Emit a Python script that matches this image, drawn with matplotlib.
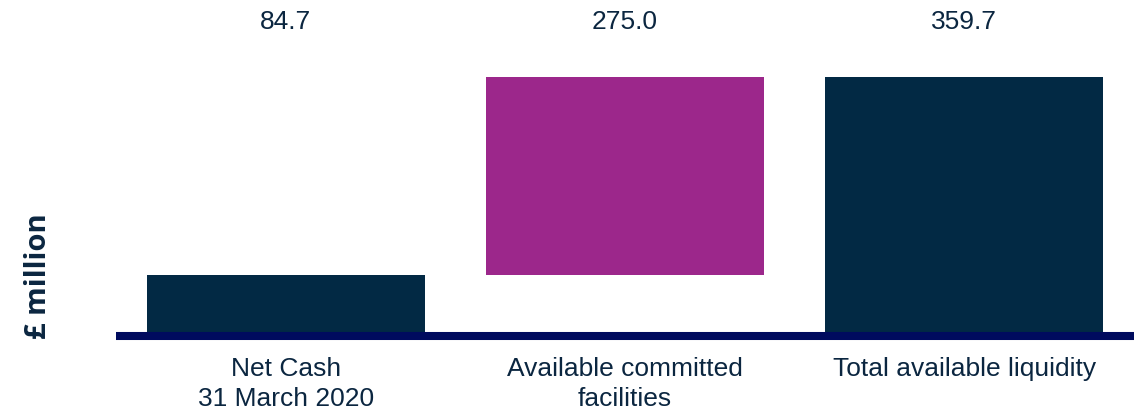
import matplotlib
matplotlib.use("Agg")
import matplotlib.pyplot as plt

# data
categories = ["Net Cash\n31 March 2020", "Available committed\nfacilities", "Total available liquidity"]
values = [84.7, 275.0, 359.7]
bottoms = [0, 84.7, 0]
value_labels = ["84.7", "275.0", "359.7"]

navy = "#022944"
purple = "#9C278B"
axis_col = "#000B5E"
text_col = "#0B2640"

plt.rcParams['font.family'] = ['Liberation Sans', 'DejaVu Sans']

fig = plt.figure(figsize=(11.38, 4.11), dpi=100)
ax = fig.add_axes([116/1138, 75/411, 1018/1138, 336/411])

colors = [navy, purple, navy]
x = range(len(categories))
ax.bar(x, values, bottom=bottoms, width=0.82, color=colors, zorder=2)

for i, lab in enumerate(value_labels):
    ax.text(i, 436, lab, ha='center', va='center', fontsize=19, color=text_col)

ax.set_xlim(-0.5, 2.5)
ax.set_ylim(0, 466.6)
ax.set_xticks(list(x))
ax.set_xticklabels(categories, fontsize=19, color=text_col, linespacing=1.3)
ax.tick_params(axis='x', length=0, pad=15)
ax.set_yticks([])
for s in ['top', 'right', 'left']:
    ax.spines[s].set_visible(False)
ax.spines['bottom'].set_color(axis_col)
ax.spines['bottom'].set_linewidth(5.8)
ax.spines['bottom'].set_capstyle('butt')
ax.spines['bottom'].set_zorder(3)

fig.text(38/1138, 1 - 276/411, "£ million", rotation=90, ha='center', va='center',
         fontsize=21, fontweight='bold', color=text_col, family=['Open Sans', 'DejaVu Sans'])

plt.savefig("out.png", dpi=100)
